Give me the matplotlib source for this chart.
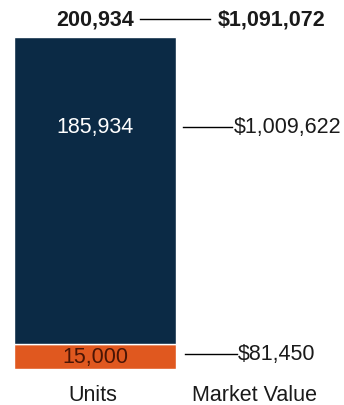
import matplotlib
matplotlib.use("Agg")
import matplotlib.pyplot as plt

plt.rcParams['font.family'] = ['Liberation Sans', 'DejaVu Sans']

categories = ["Units", "Market Value"]
unit_parts = [15000, 185934]
unit_labels = ["15,000", "185,934"]
value_labels = ["$81,450", "$1,009,622"]
total_units = 200934
total_units_label = "200,934"
total_value_label = "$1,091,072"

navy = "#0b2a45"
orange = "#e0581f"

W, H = 344, 406
fig = plt.figure(figsize=(W / 100, H / 100), dpi=100)
# axes: bar runs from 370px (value 0) to 38px (total) from top
ax = fig.add_axes([0, (H - 370) / H, 1, (370 - 38) / H])
ax.set_xlim(0, W)
ax.set_ylim(0, total_units)
ax.axis("off")

xc, bw = 95, 162
ax.bar(xc, unit_parts[0], width=bw, color=orange, edgecolor="white", linewidth=1)
ax.bar(xc, unit_parts[1], bottom=unit_parts[0], width=bw, color=navy, edgecolor="white", linewidth=1)

fs = 15.5
def fy(py):
    return (H - py) / H

# bottom segment
ax.text(xc, unit_parts[0] / 2, unit_labels[0], ha="center", va="center", fontsize=fs, color="#4a1505")
fig.add_artist(plt.Line2D([185 / W, 237 / W], [fy(355)] * 2, color="black", lw=1))
fig.text(238 / W, fy(355), value_labels[0], ha="left", va="center", fontsize=fs, color="#1a1a1a")

# top segment
fig.text(xc / W, fy(128), unit_labels[1], ha="center", va="center", fontsize=fs, color="white")
fig.add_artist(plt.Line2D([183 / W, 232 / W], [fy(128)] * 2, color="black", lw=1))
fig.text(234 / W, fy(128), value_labels[1], ha="left", va="center", fontsize=fs, color="#1a1a1a")

# totals
fig.text(134 / W, fy(20), total_units_label, ha="right", va="center", fontsize=fs, fontweight="bold", color="#1a1a1a")
fig.add_artist(plt.Line2D([140 / W, 210 / W], [fy(20)] * 2, color="black", lw=1))
fig.text(218 / W, fy(20), total_value_label, ha="left", va="center", fontsize=fs, fontweight="bold", color="#1a1a1a")

# category labels
fig.text(93 / W, fy(396), categories[0], ha="center", va="center", fontsize=fs, color="#1a1a1a")
fig.text(255 / W, fy(396), categories[1], ha="center", va="center", fontsize=fs, color="#1a1a1a")

fig.savefig("out.png", dpi=100)
